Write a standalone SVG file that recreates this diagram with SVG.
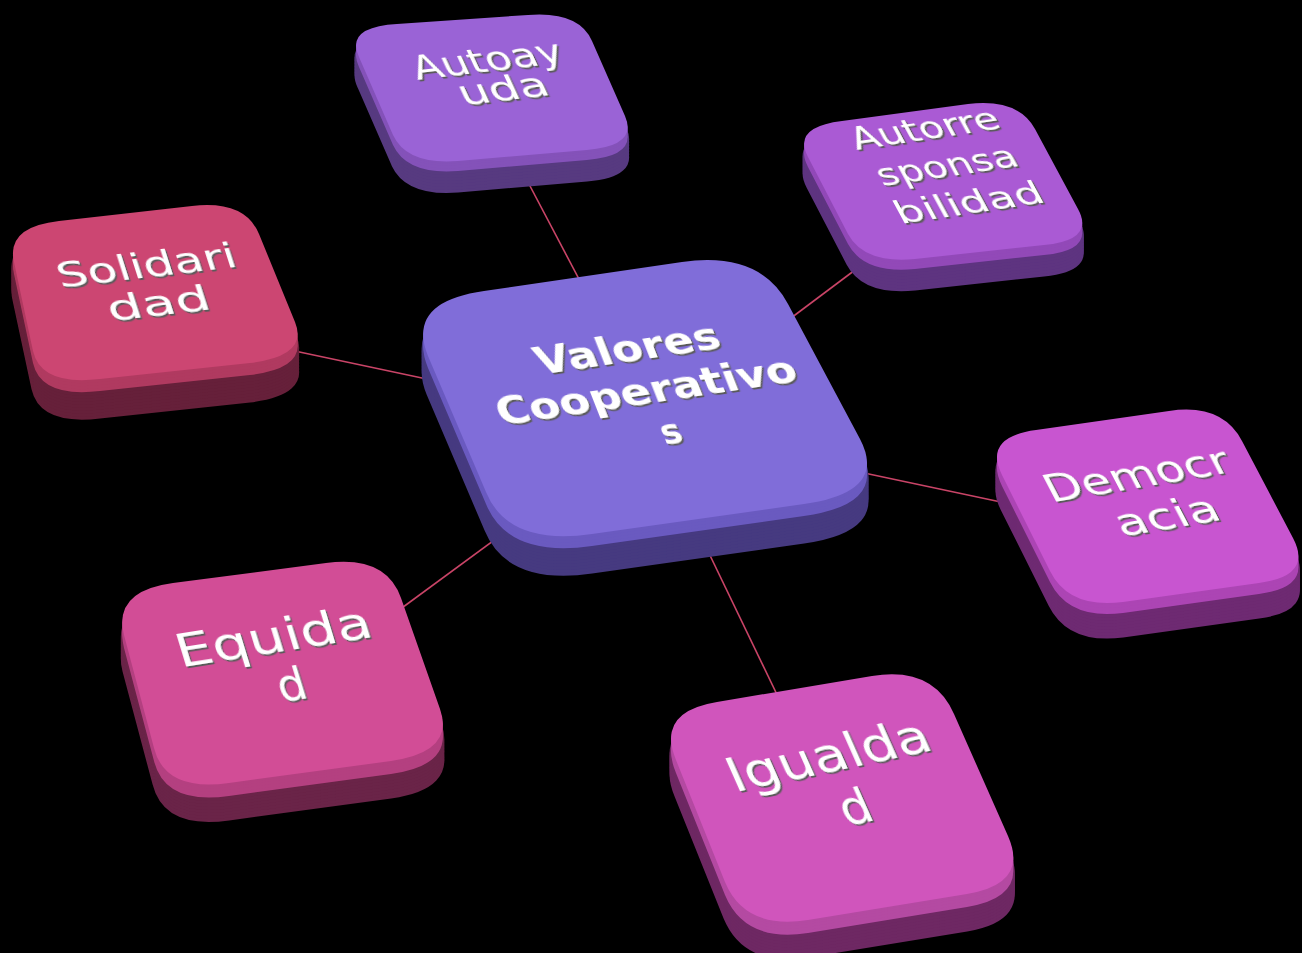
<svg xmlns="http://www.w3.org/2000/svg" xmlns:xlink="http://www.w3.org/1999/xlink" width="1302" height="953" viewBox="0 0 1302 953">
<defs>
<style>
.t{font-family:"DejaVu Sans","Liberation Sans",sans-serif;fill:#ffffff;text-anchor:middle;filter:url(#emb)}
.b{font-weight:bold}
.ln{stroke:#C94467;stroke-width:1.6;fill:none}
.sd{stroke-width:3;stroke-linejoin:round}
</style>
<filter id="emb" x="-10%" y="-40%" width="120%" height="180%">
<feDropShadow dx="1.2" dy="2" stdDeviation="0.4" flood-color="#5a5a5a" flood-opacity="1"/>
</filter>
<path id="s-c" d="M484,291 L682,262 Q760,251 788,304 L860,439 Q888,492 804,504 L592,534 Q508,546 486,492 L428,356 Q406,302 484,291 Z"/>
<path id="s-aa" d="M397,24 L528,15 Q579,11 592,41 L625,116 Q638,146 587,150 L458,161 Q407,165 393,135 L359,57 Q345,27 397,24 Z"/>
<path id="s-ar" d="M842,121 L968,104 Q1018,98 1035,129 L1078,209 Q1095,240 1044,245 L915,259 Q864,264 848,234 L808,157 Q792,127 842,121 Z"/>
<path id="s-so" d="M59,221 L192,206 Q245,200 259,234 L295,322 Q309,356 250,363 L100,379 Q41,386 33,351 L14,262 Q6,227 59,221 Z"/>
<path id="s-de" d="M1036,430 L1169,411 Q1222,403 1242,441 L1293,538 Q1313,576 1259,583 L1123,602 Q1069,609 1050,571 L1002,475 Q983,437 1036,430 Z"/>
<path id="s-eq" d="M173,583 L326,563 Q386,555 401,598 L440,709 Q455,752 391,761 L229,783 Q165,792 154,748 L124,635 Q113,591 173,583 Z"/>
<path id="s-ig" d="M717,702 L872,676 Q933,666 954,714 L1008,836 Q1029,884 967,894 L808,920 Q745,930 725,882 L676,760 Q656,712 717,702 Z"/>
</defs>
<rect x="0" y="0" width="1302" height="953" fill="#000000"/>

<g id="connectors">
<line class="ln" x1="520" y1="167" x2="590" y2="300"/>
<line class="ln" x1="783" y1="324" x2="875" y2="255"/>
<line class="ln" x1="290" y1="350" x2="455" y2="385"/>
<line class="ln" x1="850" y1="470" x2="1015" y2="505"/>
<line class="ln" x1="395" y1="613" x2="512" y2="527"/>
<line class="ln" x1="705" y1="545" x2="782" y2="705"/>
</g>

<g id="node-center">
<g class="sd" fill="#463a80" stroke="#463a80">
<use xlink:href="#s-c" y="38"/><use xlink:href="#s-c" y="35"/><use xlink:href="#s-c" y="32"/><use xlink:href="#s-c" y="29"/><use xlink:href="#s-c" y="26"/><use xlink:href="#s-c" y="23"/><use xlink:href="#s-c" y="20"/><use xlink:href="#s-c" y="17"/><use xlink:href="#s-c" y="14"/>
</g>
<g fill="#6a5ac0">
<use xlink:href="#s-c" y="12"/><use xlink:href="#s-c" y="9"/><use xlink:href="#s-c" y="6"/><use xlink:href="#s-c" y="3"/>
</g>
<use xlink:href="#s-c" fill="#806dd9"/>
<text class="t b" font-size="38" transform="translate(632,361) rotate(-8.5) skewX(13)" textLength="185" lengthAdjust="spacingAndGlyphs">Valores</text>
<text class="t b" font-size="38" transform="translate(651,403) rotate(-8.5) skewX(13)" textLength="302" lengthAdjust="spacingAndGlyphs">Cooperativo</text>
<text class="t b" font-size="34" transform="translate(675,443) rotate(-8.5) skewX(13)">s</text>
</g>

<g id="node-autoayuda">
<g class="sd" fill="#573a80" stroke="#573a80">
<use xlink:href="#s-aa" y="30"/><use xlink:href="#s-aa" y="27"/><use xlink:href="#s-aa" y="24"/><use xlink:href="#s-aa" y="21"/><use xlink:href="#s-aa" y="18"/><use xlink:href="#s-aa" y="15"/><use xlink:href="#s-aa" y="12"/>
</g>
<g fill="#8452b9">
<use xlink:href="#s-aa" y="10"/><use xlink:href="#s-aa" y="7"/><use xlink:href="#s-aa" y="4"/><use xlink:href="#s-aa" y="2"/>
</g>
<use xlink:href="#s-aa" fill="#9a63d6"/>
<text class="t" font-size="33" transform="translate(492,71) rotate(-6.8) skewX(18)" textLength="150" lengthAdjust="spacingAndGlyphs">Autoay</text>
<text class="t" font-size="33" transform="translate(508,100) rotate(-6.8) skewX(18)" textLength="89" lengthAdjust="spacingAndGlyphs">uda</text>
</g>

<g id="node-autorresponsabilidad">
<g class="sd" fill="#5e3480" stroke="#5e3480">
<use xlink:href="#s-ar" y="30"/><use xlink:href="#s-ar" y="27"/><use xlink:href="#s-ar" y="24"/><use xlink:href="#s-ar" y="21"/><use xlink:href="#s-ar" y="18"/><use xlink:href="#s-ar" y="15"/><use xlink:href="#s-ar" y="12"/>
</g>
<g fill="#9249b8">
<use xlink:href="#s-ar" y="10"/><use xlink:href="#s-ar" y="7"/><use xlink:href="#s-ar" y="4"/><use xlink:href="#s-ar" y="2"/>
</g>
<use xlink:href="#s-ar" fill="#aa5ad4"/>
<text class="t" font-size="31" transform="translate(930,139) rotate(-8.5) skewX(20)" textLength="148" lengthAdjust="spacingAndGlyphs">Autorre</text>
<text class="t" font-size="31" transform="translate(952,176) rotate(-8.5) skewX(20)" textLength="140" lengthAdjust="spacingAndGlyphs">sponsa</text>
<text class="t" font-size="31" transform="translate(974,213) rotate(-8.5) skewX(20)" textLength="148" lengthAdjust="spacingAndGlyphs">bilidad</text>
</g>

<g id="node-solidaridad">
<g class="sd" fill="#66203a" stroke="#66203a">
<use xlink:href="#s-so" y="38"/><use xlink:href="#s-so" y="35"/><use xlink:href="#s-so" y="32"/><use xlink:href="#s-so" y="29"/><use xlink:href="#s-so" y="26"/><use xlink:href="#s-so" y="23"/><use xlink:href="#s-so" y="20"/><use xlink:href="#s-so" y="17"/><use xlink:href="#s-so" y="14"/>
</g>
<g fill="#b03a60">
<use xlink:href="#s-so" y="12"/><use xlink:href="#s-so" y="9"/><use xlink:href="#s-so" y="6"/><use xlink:href="#s-so" y="3"/>
</g>
<use xlink:href="#s-so" fill="#cc4672"/>
<text class="t" font-size="34" transform="translate(150,277) rotate(-6.7) skewX(11)" textLength="180" lengthAdjust="spacingAndGlyphs">Solidari</text>
<text class="t" font-size="34" transform="translate(162,315) rotate(-6.7) skewX(11)" textLength="103" lengthAdjust="spacingAndGlyphs">dad</text>
</g>

<g id="node-democracia">
<g class="sd" fill="#6e2a72" stroke="#6e2a72">
<use xlink:href="#s-de" y="34"/><use xlink:href="#s-de" y="31"/><use xlink:href="#s-de" y="28"/><use xlink:href="#s-de" y="25"/><use xlink:href="#s-de" y="22"/><use xlink:href="#s-de" y="19"/><use xlink:href="#s-de" y="16"/><use xlink:href="#s-de" y="13"/>
</g>
<g fill="#ac45b4">
<use xlink:href="#s-de" y="11"/><use xlink:href="#s-de" y="8"/><use xlink:href="#s-de" y="5"/><use xlink:href="#s-de" y="2"/>
</g>
<use xlink:href="#s-de" fill="#c855d0"/>
<text class="t" font-size="38" transform="translate(1143,487) rotate(-9.6) skewX(18)" textLength="185" lengthAdjust="spacingAndGlyphs">Democr</text>
<text class="t" font-size="38" transform="translate(1173,528) rotate(-9.6) skewX(18)" textLength="103" lengthAdjust="spacingAndGlyphs">acia</text>
</g>

<g id="node-equidad">
<g class="sd" fill="#6a2448" stroke="#6a2448">
<use xlink:href="#s-eq" y="36"/><use xlink:href="#s-eq" y="33"/><use xlink:href="#s-eq" y="30"/><use xlink:href="#s-eq" y="27"/><use xlink:href="#s-eq" y="24"/><use xlink:href="#s-eq" y="21"/><use xlink:href="#s-eq" y="18"/><use xlink:href="#s-eq" y="15"/>
</g>
<g fill="#b44080">
<use xlink:href="#s-eq" y="13"/><use xlink:href="#s-eq" y="10"/><use xlink:href="#s-eq" y="7"/><use xlink:href="#s-eq" y="4"/><use xlink:href="#s-eq" y="2"/>
</g>
<use xlink:href="#s-eq" fill="#d24d96"/>
<text class="t" font-size="45" transform="translate(278,652) rotate(-9) skewX(8)" textLength="197" lengthAdjust="spacingAndGlyphs">Equida</text>
<text class="t" font-size="45" transform="translate(296,700) rotate(-9) skewX(8)">d</text>
</g>

<g id="node-igualdad">
<g class="sd" fill="#6e2863" stroke="#6e2863">
<use xlink:href="#s-ig" y="36"/><use xlink:href="#s-ig" y="33"/><use xlink:href="#s-ig" y="30"/><use xlink:href="#s-ig" y="27"/><use xlink:href="#s-ig" y="24"/><use xlink:href="#s-ig" y="21"/><use xlink:href="#s-ig" y="18"/><use xlink:href="#s-ig" y="15"/>
</g>
<g fill="#b44aa2">
<use xlink:href="#s-ig" y="13"/><use xlink:href="#s-ig" y="10"/><use xlink:href="#s-ig" y="7"/><use xlink:href="#s-ig" y="4"/><use xlink:href="#s-ig" y="2"/>
</g>
<use xlink:href="#s-ig" fill="#d055bc"/>
<text class="t" font-size="48" transform="translate(835,771) rotate(-12) skewX(12)" textLength="205" lengthAdjust="spacingAndGlyphs">Igualda</text>
<text class="t" font-size="48" transform="translate(862,823) rotate(-12) skewX(12)">d</text>
</g>
</svg>
